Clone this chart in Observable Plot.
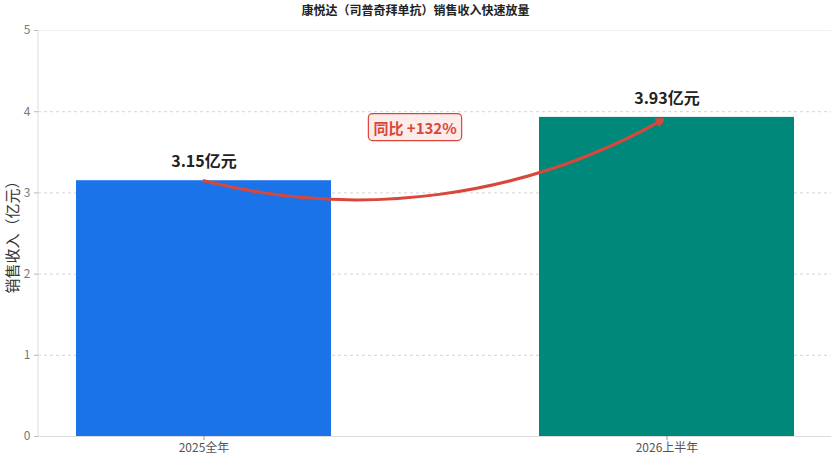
<!DOCTYPE html>
<html><head><meta charset="utf-8">
<script src="https://cdn.jsdelivr.net/npm/d3@7"></script>
<script src="https://cdn.jsdelivr.net/npm/@observablehq/plot@0.6"></script>
<style>
body{margin:0;background:#fff;font-family:"Noto Sans CJK SC","Noto Sans",sans-serif;}
#title{height:20px;line-height:20px;text-align:center;font-weight:bold;font-size:12px;color:#222;}
</style></head><body>
<div id="title">康悦达（司普奇拜单抗）销售收入快速放量</div>
<div id="chart"></div>
<script>
const categories = ["2025全年", "2026上半年"];
const revenue = [3.15, 3.93];
const valueLabels = ["3.15亿元", "3.93亿元"];
const barColors = ["#1a73e8", "#00897b"];
const yTicks = [0, 1, 2, 3, 4, 5];
const gridTicks = [1, 2, 3, 4];
const growthLabel = "同比 +132%";
const growthY = 3.79;
const yLabel = "销售收入（亿元）";

const data = categories.map((c, i) => ({category: c, value: revenue[i], label: valueLabels[i], color: barColors[i]}));
const arrowData = [{x1: categories[0], y1: revenue[0], x2: categories[1], y2: revenue[1]}];

function leftLine(index, scales, values, dimensions) {
  const {marginLeft, marginTop, height, marginBottom} = dimensions;
  return d3.create("svg:line")
    .attr("x1", marginLeft).attr("x2", marginLeft)
    .attr("y1", marginTop).attr("y2", height - marginBottom)
    .attr("stroke", "#ddd").node();
}

const plot = Plot.plot({
  width: 831,
  height: 439,
  marginTop: 10,
  marginBottom: 23,
  marginLeft: 38,
  marginRight: 0,
  style: {fontFamily: "'Noto Sans CJK SC','Noto Sans',sans-serif", fontSize: "11px", background: "#fff"},
  x: {domain: categories, paddingInner: 0.45, paddingOuter: 0.08},
  y: {domain: [0, 5]},
  marks: [
    Plot.gridY(gridTicks, {stroke: "#d4d4d4", strokeOpacity: 1, strokeDasharray: "3,3"}),
    Plot.ruleY([5], {stroke: "#f0f0f0"}),
    leftLine,
    Plot.ruleY([0], {stroke: "#ddd"}),
    Plot.barY(data, {x: "category", y: "value", fill: "color"}),
    Plot.axisY({ticks: yTicks, tickFormat: "d", tickSize: 4, tickPadding: 4, stroke: "#bbb", fill: "#777", fontSize: 12,
      label: yLabel, labelAnchor: "center", labelOffset: 31, labelArrow: "none"}),
    Plot.axisX({tickSize: 4, tickPadding: 3, stroke: "#999", fill: "#555", fontSize: 12, label: null}),
    Plot.text(data, {x: "category", y: "value", text: "label", dy: -19, fontSize: 16, fontWeight: "bold", fill: "#222"}),
    Plot.arrow(arrowData, {x1: "x1", y1: "y1", x2: "x2", y2: "y2", bend: -22, stroke: "#d9473c", strokeWidth: 3, headLength: 3, insetEnd: 5}),
    Plot.text([growthLabel], {y: () => growthY, text: d => d, dx: -20, fontSize: 15, fontWeight: "bold", fill: "#d9473c", className: "growth"})
  ]
});
document.getElementById("chart").appendChild(plot);

const t = plot.querySelector(".growth text");
if (t) {
  const b = t.getBBox();
  const r = document.createElementNS("http://www.w3.org/2000/svg", "rect");
  r.setAttribute("x", b.x - 5); r.setAttribute("y", b.y - 3);
  r.setAttribute("width", b.width + 10); r.setAttribute("height", b.height + 6);
  r.setAttribute("rx", 4);
  if (t.getAttribute("transform")) r.setAttribute("transform", t.getAttribute("transform"));
  r.setAttribute("fill", "#fdecea"); r.setAttribute("stroke", "#d9473c"); r.setAttribute("stroke-width", 1.2);
  t.parentNode.insertBefore(r, t);
}
plot.querySelectorAll("[aria-label='y-axis label'] text, [aria-label='y-axis label']").forEach(e => {
  e.setAttribute("font-size", 15); e.setAttribute("fill", "#333");
});
</script>
</body></html>
